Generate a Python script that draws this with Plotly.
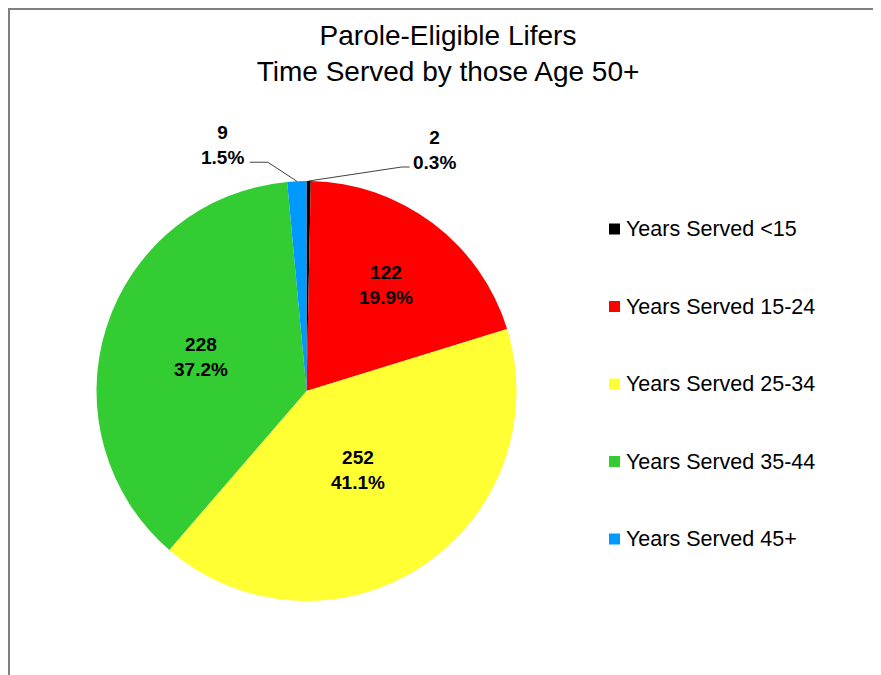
import math
import plotly.graph_objects as go

# ---- data ----
categories = ["Years Served <15", "Years Served 15-24", "Years Served 25-34",
              "Years Served 35-44", "Years Served 45+"]
counts = [2, 122, 252, 228, 9]
colors = ["#000000", "#FF0000", "#FFFF33", "#33CC33", "#0099FF"]
title_lines = ["Parole-Eligible Lifers", "Time Served by those Age 50+"]

# ---- layout constants (page pixels) ----
OFF = 8  # page body margin
W, H = 881 - OFF, 675 - OFF
CX, CY, R = 306.5, 391.0, 210.0
FONT = "Liberation Sans, Arial, sans-serif"


def fx(x):
    return (x - OFF) / W


def fy(y):
    return 1 - (y - OFF) / H


total = sum(counts)
pcts = [c / total * 100 for c in counts]

# mid angles (clockwise from 12 o'clock)
mids = []
acc = 0
for c in counts:
    mids.append((acc + c / 2) / total * 360)
    acc += c


def polar(angle_deg, r):
    a = math.radians(angle_deg)
    return CX + r * math.sin(a), CY - r * math.cos(a)


fig = go.Figure()
fig.add_trace(go.Pie(
    labels=categories, values=counts, sort=False, direction="clockwise",
    rotation=0, marker=dict(colors=colors, line=dict(width=0)),
    textinfo="none", showlegend=False, hoverinfo="label+value+percent",
    domain=dict(x=[fx(CX - R), fx(CX + R)], y=[fy(CY + R), fy(CY - R)]),
))

annotations = []
shapes = []

# inside labels (radial fraction per slice; None = outside label)
inside_frac = [None, 0.63, 0.45, 0.53, None]
# outside labels: (label offset from edge point, leader-line elbow, leader end)
outside = {
    0: dict(off=(126, -31), elbow=(93, -14), end=(101, -14)),
    4: dict(off=(-74, -36), elbow=(-29, -19), end=(-47, -19)),
}

for i, (c, p) in enumerate(zip(counts, pcts)):
    txt = f"<b>{c}<br>{p:.1f}%</b>"
    if inside_frac[i] is not None:
        x, y = polar(mids[i], R * inside_frac[i])
    else:
        ex, ey = polar(mids[i], R)
        o = outside[i]
        x, y = ex + o["off"][0], ey + o["off"][1]
        e1 = (ex + o["elbow"][0], ey + o["elbow"][1])
        e2 = (ex + o["end"][0], ey + o["end"][1])
        shapes.append(dict(
            type="path", xref="paper", yref="paper",
            path=f"M {fx(ex)} {fy(ey)} L {fx(e1[0])} {fy(e1[1])} L {fx(e2[0])} {fy(e2[1])}",
            line=dict(color="#404040", width=1)))
    annotations.append(dict(
        x=fx(x), y=fy(y), xref="paper", yref="paper", text=txt,
        showarrow=False, xanchor="center", yanchor="middle", align="center",
        font=dict(family=FONT, size=19, color="#000000")))

# manual legend
LEG_X, LEG_Y0, LEG_DY, SQ = 609, 229, 77.5, 11
for i, (lab, col) in enumerate(zip(categories, colors)):
    yc = LEG_Y0 + i * LEG_DY
    shapes.append(dict(type="rect", xref="paper", yref="paper",
                       x0=fx(LEG_X), x1=fx(LEG_X + SQ),
                       y0=fy(yc + SQ / 2), y1=fy(yc - SQ / 2),
                       fillcolor=col, line=dict(width=0)))
    annotations.append(dict(
        x=fx(LEG_X + SQ + 4), y=fy(yc), xref="paper", yref="paper", text=lab,
        showarrow=False, xanchor="left", yanchor="middle",
        font=dict(family=FONT, size=21.5, color="#000000")))

# frame lines (top and left)
shapes.append(dict(type="line", xref="paper", yref="paper",
                   x0=fx(9), x1=fx(9), y0=fy(8), y1=0,
                   line=dict(color="#7F7F7F", width=2)))
shapes.append(dict(type="line", xref="paper", yref="paper",
                   x0=fx(8), x1=1, y0=fy(9), y1=fy(9),
                   line=dict(color="#7F7F7F", width=2)))

fig.update_layout(
    width=W, height=H, autosize=False,
    margin=dict(l=0, r=0, t=0, b=0),
    paper_bgcolor="white", plot_bgcolor="white",
    title=dict(text="<br>".join(title_lines), x=fx(448), xanchor="center",
               y=fy(45), yanchor="top", yref="container",
               font=dict(family=FONT, size=28, color="#000000")),
    annotations=annotations, shapes=shapes, showlegend=False,
)

fig.write_html("out.html")
